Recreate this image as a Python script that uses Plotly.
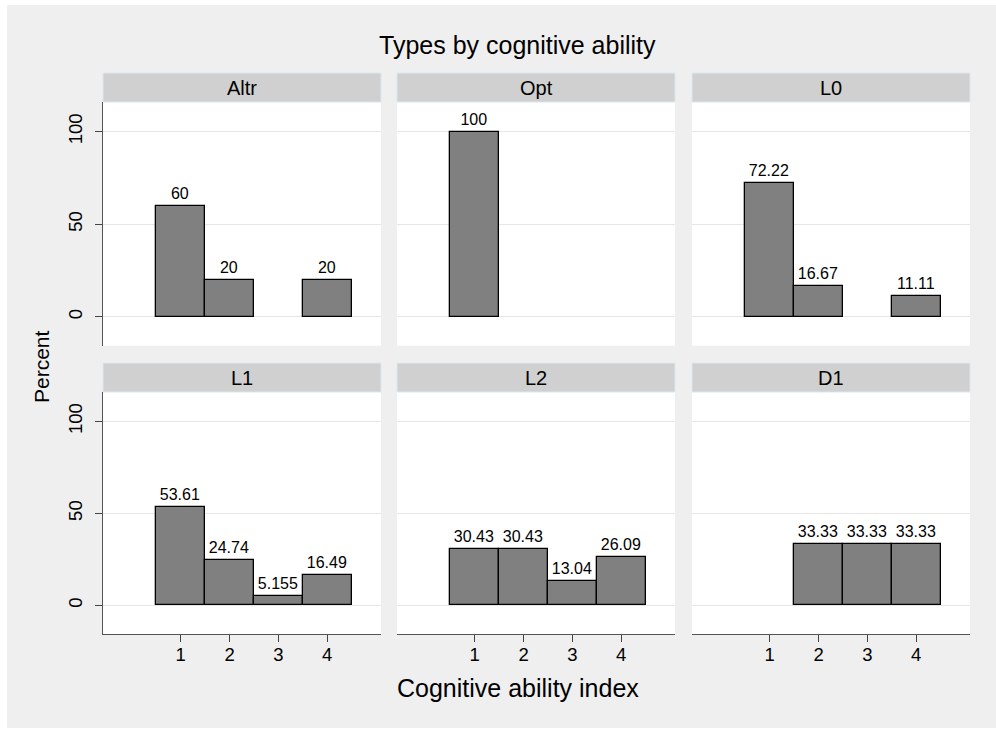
import plotly.graph_objects as go

W, H = 996, 729

categories = [1, 2, 3, 4]
panel_titles = ["Altr", "Opt", "L0", "L1", "L2", "D1"]
altr = [60, 20, None, 20]
opt = [100, None, None, None]
l0 = [72.22, 16.67, None, 11.11]
l1 = [53.61, 24.74, 5.155, 16.49]
l2 = [30.43, 30.43, 13.04, 26.09]
d1 = [None, 33.33, 33.33, 33.33]
series = [altr, opt, l0, l1, l2, d1]
y_ticks = [0, 50, 100]

FONT = "Liberation Sans, Arial, sans-serif"
col_px = [(103, 381), (397, 675), (692, 970)]
row_px = [(102, 345.7), (392, 634)]
strip_px = [(73, 102), (363, 392)]

fig = go.Figure()


def fmt(v):
    return "%.4g" % v


for i, (title, vals) in enumerate(zip(panel_titles, series)):
    r, c = divmod(i, 3)
    n = i + 1
    xa = "x" if n == 1 else f"x{n}"
    ya = "y" if n == 1 else f"y{n}"
    xs = [cat for cat, v in zip(categories, vals) if v is not None]
    ys = [v for v in vals if v is not None]
    fig.add_trace(go.Bar(
        x=xs, y=ys, width=1,
        marker=dict(color="#808080", line=dict(color="black", width=1.3)),
        text=[fmt(v) for v in ys], textposition="outside", constraintext="none",
        textfont=dict(family=FONT, size=16, color="black"),
        cliponaxis=False, xaxis=xa, yaxis=ya, showlegend=False,
        hoverinfo="skip",
    ))
    x0, x1 = col_px[c]
    y0, y1 = row_px[r]
    xk = "xaxis" if n == 1 else f"xaxis{n}"
    yk = "yaxis" if n == 1 else f"yaxis{n}"
    bottom = r == 1
    left = c == 0
    fig.layout[xk] = dict(
        domain=[x0 / W, x1 / W], range=[-0.59, 5.1], anchor=ya,
        tickvals=categories if bottom else [], showticklabels=bottom,
        ticks="outside" if bottom else "", ticklen=7, tickcolor="#444",
        showline=bottom, linecolor="#555", linewidth=1.3,
        showgrid=False, zeroline=False,
        tickfont=dict(family=FONT, size=18.5, color="black"),
        ticklabelstandoff=-3,
        fixedrange=True,
    )
    fig.layout[yk] = dict(
        domain=[1 - y1 / H, 1 - y0 / H], range=[-15.6, 116], anchor=xa,
        tickvals=y_ticks, showticklabels=left, tickangle=-90,
        ticks="outside" if left else "", ticklen=7, tickcolor="#444",
        showline=left, linecolor="#555", linewidth=1.3,
        showgrid=True, gridcolor="#e6e6e6", gridwidth=1.2, zeroline=False,
        tickfont=dict(family=FONT, size=18.5, color="black"),
        ticklabelstandoff=5,
        fixedrange=True,
    )

shapes = [dict(type="rect", xref="paper", yref="paper",
               x0=7 / W, x1=1.01, y0=1 - 728 / H, y1=1 - 5 / H,
               fillcolor="#efefef", line=dict(width=0), layer="below")]
annotations = []
for i, title in enumerate(panel_titles):
    r, c = divmod(i, 3)
    x0, x1 = col_px[c]
    s0, s1 = strip_px[r]
    py0, py1 = row_px[r]
    shapes.append(dict(type="rect", xref="paper", yref="paper",
                       x0=x0 / W, x1=x1 / W, y0=1 - py1 / H, y1=1 - py0 / H,
                       fillcolor="white", line=dict(width=0), layer="below"))
    shapes.append(dict(type="rect", xref="paper", yref="paper",
                       x0=x0 / W, x1=x1 / W, y0=1 - s1 / H, y1=1 - s0 / H,
                       fillcolor="#d0d0d0", line=dict(color="#dbe8ee", width=1),
                       layer="above"))
    annotations.append(dict(text=title, xref="paper", yref="paper",
                            x=(x0 + x1) / 2 / W, y=1 - (s0 + s1) / 2 / H,
                            xanchor="center", yanchor="middle", showarrow=False,
                            font=dict(family=FONT, size=20, color="black")))

annotations.append(dict(text="Types by cognitive ability", xref="paper", yref="paper",
                        x=517 / W, y=1 - 45 / H, xanchor="center", yanchor="middle",
                        showarrow=False,
                        font=dict(family=FONT, size=25, color="black")))
annotations.append(dict(text="Percent", xref="paper", yref="paper",
                        x=41 / W, y=1 - 367 / H, xanchor="center", yanchor="middle",
                        textangle=-90, showarrow=False,
                        font=dict(family=FONT, size=21, color="black")))
annotations.append(dict(text="Cognitive ability index", xref="paper", yref="paper",
                        x=518 / W, y=1 - 688 / H, xanchor="center", yanchor="middle",
                        showarrow=False,
                        font=dict(family=FONT, size=25, color="black")))

fig.update_layout(
    width=W, height=H, margin=dict(l=0, r=0, t=0, b=0),
    paper_bgcolor="white", plot_bgcolor="rgba(0,0,0,0)",
    shapes=shapes, annotations=annotations, bargap=0,
    font=dict(family=FONT),
)

fig.write_html("out.html", config={"displayModeBar": False},
               post_script="document.body.style.margin='0px';document.body.style.overflow='hidden';")
